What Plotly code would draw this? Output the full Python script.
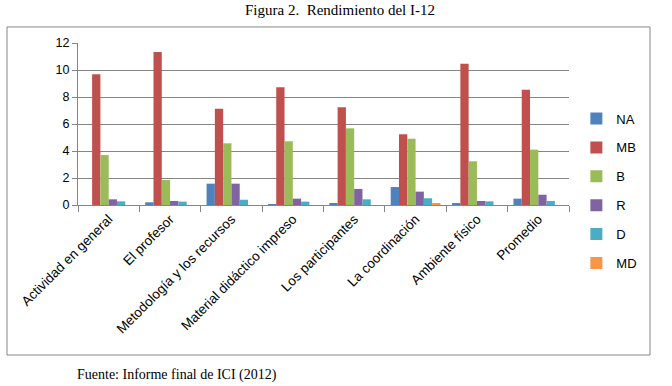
import plotly.graph_objects as go

categories = ["Actividad en general", "El profesor", "Metodología y los recursos",
              "Material didáctico impreso", "Los participantes", "La coordinación",
              "Ambiente físico", "Promedio"]
NA = [0.0, 0.2, 1.58, 0.05, 0.12, 1.33, 0.12, 0.47]
MB = [9.68, 11.33, 7.13, 8.72, 7.24, 5.24, 10.47, 8.54]
B = [3.7, 1.85, 4.57, 4.72, 5.68, 4.91, 3.24, 4.1]
R = [0.42, 0.3, 1.58, 0.47, 1.19, 0.99, 0.3, 0.76]
D = [0.27, 0.25, 0.39, 0.25, 0.42, 0.5, 0.27, 0.3]
MD = [0.0, 0.0, 0.0, 0.0, 0.0, 0.15, 0.0, 0.0]

series = [("NA", NA, "#4F81BD"), ("MB", MB, "#C0504D"), ("B", B, "#9BBB59"),
          ("R", R, "#8064A2"), ("D", D, "#4BACC6"), ("MD", MD, "#F79646")]

fig = go.Figure()
for i, (name, vals, col) in enumerate(series):
    fig.add_trace(go.Bar(x=categories, y=vals, name=name, marker_color=col,
                         marker_line_width=0, legendgroup=f"g{i}"))

fig.update_layout(
    width=672, height=386,
    margin=dict(l=78, r=103, t=43, b=181),
    paper_bgcolor="white", plot_bgcolor="white",
    barmode="group", bargap=0.19, bargroupgap=0,
    font=dict(family="Liberation Sans, Arial, sans-serif", size=12, color="black"),
    showlegend=True,
    legend=dict(x=1.015, y=0.086, xanchor="left", yanchor="middle",
                traceorder="grouped", tracegroupgap=9, maxheight=300,
                font=dict(size=13, color="black"),
                itemwidth=30, bgcolor="rgba(0,0,0,0)"),
    xaxis=dict(type="category", tickson="boundaries", ticks="outside", ticklen=6,
               tickcolor="#868686", showline=True, linecolor="#868686",
               showgrid=False, tickangle=-45, tickfont=dict(size=13.5)),
    yaxis=dict(range=[0, 12], dtick=2, showgrid=True, gridcolor="#868686",
               gridwidth=1, showline=True, linecolor="#868686", ticks="outside",
               ticklen=5, tickcolor="#868686", zeroline=False,
               tickfont=dict(size=12.5)),
)

# outer chart border
fig.add_shape(type="rect", xref="paper", yref="paper",
              x0=-0.1446, x1=1.165, y0=-0.926, y1=1.099,
              line=dict(color="#868686", width=1))

fig.add_annotation(text="Figura 2.  Rendimiento del I-12", xref="paper", yref="paper",
                   x=0.534, y=1.204, showarrow=False, xanchor="center", yanchor="middle",
                   font=dict(family="Liberation Serif, Times New Roman, serif", size=15))
fig.add_annotation(text="Fuente: Informe final de ICI (2012)", xref="paper", yref="paper",
                   x=-0.007, y=-1.049, showarrow=False, xanchor="left", yanchor="middle",
                   font=dict(family="Liberation Serif, Times New Roman, serif", size=14))

fig.write_html("out.html", config={"displayModeBar": False},
               post_script="document.body.style.margin='0px';")
